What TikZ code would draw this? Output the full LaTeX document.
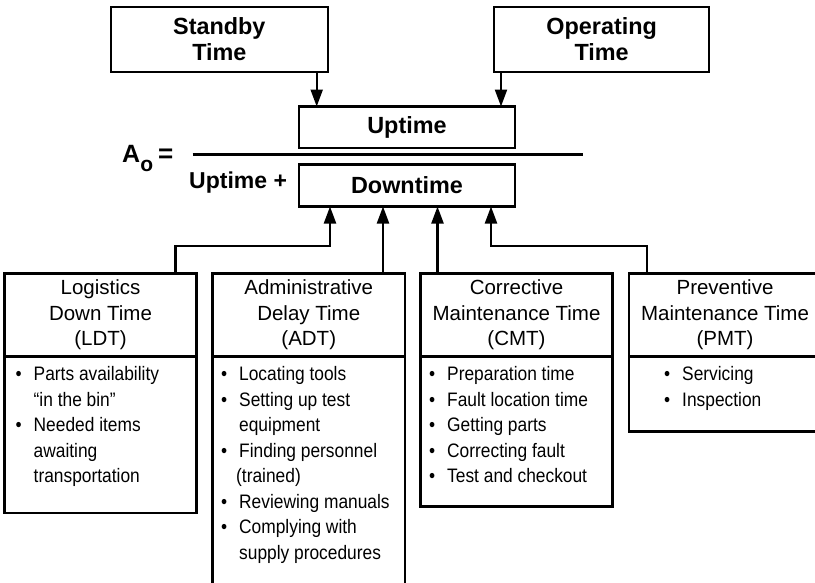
\documentclass[tikz,border=0pt]{standalone}
\usepackage{fontspec}
\setmainfont{Liberation Sans}
\newfontfamily\narrowfont[FakeStretch=0.89]{Liberation Sans}
\usetikzlibrary{arrows.meta}
\newcommand{\bl}{\makebox[18pt][l]{\textbullet}}
\newcommand{\nb}{\hspace*{18pt}}

\begin{document}
\begin{tikzpicture}[x=1pt,y=-1pt,
  box/.style={draw,line width=2.2pt,inner sep=0pt,outer sep=0pt,anchor=north west},
  bigbox/.style={box,font=\fontsize{23.4}{26.7}\selectfont\bfseries,align=center},
  headbox/.style={box,font=\fontsize{20.5}{25.5}\selectfont,align=center,minimum width=192pt,minimum height=83pt},
  listbox/.style={box,minimum width=192pt},
  items/.style={inner sep=0pt,anchor=north west,align=left,font=\narrowfont\fontsize{19.5}{25.5}\selectfont},
  arr/.style={line width=2.2pt,-{Triangle[length=17pt,width=12pt]}}]

\useasboundingbox (0,0) rectangle (815,582);

% top row
\node[bigbox,minimum width=216.7pt,minimum height=65pt] (standby) at (111,6.7) {Standby\\Time};
\node[bigbox,minimum width=215.3pt,minimum height=65pt] (operating) at (494,6.7) {Operating\\Time};

% the fraction
\node[bigbox,minimum width=216pt,minimum height=41.5pt] (uptime) at (299,106.5) {Uptime};
\node[bigbox,minimum width=216pt,minimum height=42pt] (downtime) at (299,164.5) {Downtime};
\draw[line width=2.2pt] (192.7,154.5) -- (583,154.5);
\node[anchor=base west,inner sep=0pt,font=\fontsize{25}{28}\selectfont\bfseries] (ao) at (122,162)
  {A\raisebox{-9pt}{\fontsize{21}{24}\selectfont o}\hspace{5pt}{\fontsize{26}{28}\selectfont =}};
\node[anchor=base west,inner sep=0pt,font=\fontsize{23}{28}\selectfont\bfseries] (upplus) at (189,188) {Uptime +};

% the four kinds of downtime
\node[headbox] (ldt) at (4.5,273.5) {Logistics\\Down Time\\(LDT)};
\node[listbox,minimum height=156.5pt] (ldtbody) at (4.5,356.5) {};
\node[items] (ldtlist) at (15.5,366.5) {\bl Parts availability\\ \nb “in the bin”\\ \bl Needed items\\ \nb awaiting\\ \nb transportation};

\node[headbox,minimum width=192.5pt] (adt) at (212.5,273.5) {Administrative\\Delay Time\\(ADT)};
\node[listbox,minimum width=192.5pt,minimum height=240pt] (adtbody) at (212.5,356.5) {};
\node[items] (adtlist) at (221,366.5) {\bl Locating tools\\ \bl Setting up test\\ \nb equipment\\ \bl Finding personnel\\ \hspace*{15pt}(trained)\\ \bl Reviewing manuals\\ \bl Complying with\\ \nb supply procedures};

\node[headbox] (cmt) at (420.5,273.5) {Corrective\\Maintenance Time\\(CMT)};
\node[listbox,minimum height=150pt] (cmtbody) at (420.5,356.5) {};
\node[items] (cmtlist) at (429,366.5) {\bl Preparation time\\ \bl Fault location time\\ \bl Getting parts\\ \bl Correcting fault\\ \bl Test and checkout};

\node[headbox] (pmt) at (629,273.5) {Preventive\\Maintenance Time\\(PMT)};
\node[listbox,minimum height=75pt] (pmtbody) at (629,356.5) {};
\node[items] (pmtlist) at (664,366.5) {\bl Servicing\\ \bl Inspection};

% arrows
\coordinate (sbfoot) at ([xshift=-11pt]standby.south east);
\coordinate (opfoot) at ([xshift=7pt]operating.south west);
\draw[arr] (sbfoot) -- (sbfoot |- uptime.north);
\draw[arr] (opfoot) -- (opfoot |- uptime.north);

\coordinate (dtA) at ([xshift=31pt]downtime.south west);
\coordinate (dtB) at ([xshift=84pt]downtime.south west);
\coordinate (dtC) at ([xshift=138.5pt]downtime.south west);
\coordinate (dtD) at ([xshift=192pt]downtime.south west);
\coordinate (ldttop) at ([xshift=-21pt]ldt.north east);
\coordinate (pmttop) at ([xshift=17.7pt]pmt.north west);
\draw[arr] (ldttop) -- ++(0,-27.5) -| (dtA);
\draw[arr] (adt.north -| dtB) -- (dtB);
\draw[arr] (cmt.north -| dtC) -- (dtC);
\draw[arr] (pmttop) -- ++(0,-27.5) -| (dtD);
\end{tikzpicture}
\end{document}
